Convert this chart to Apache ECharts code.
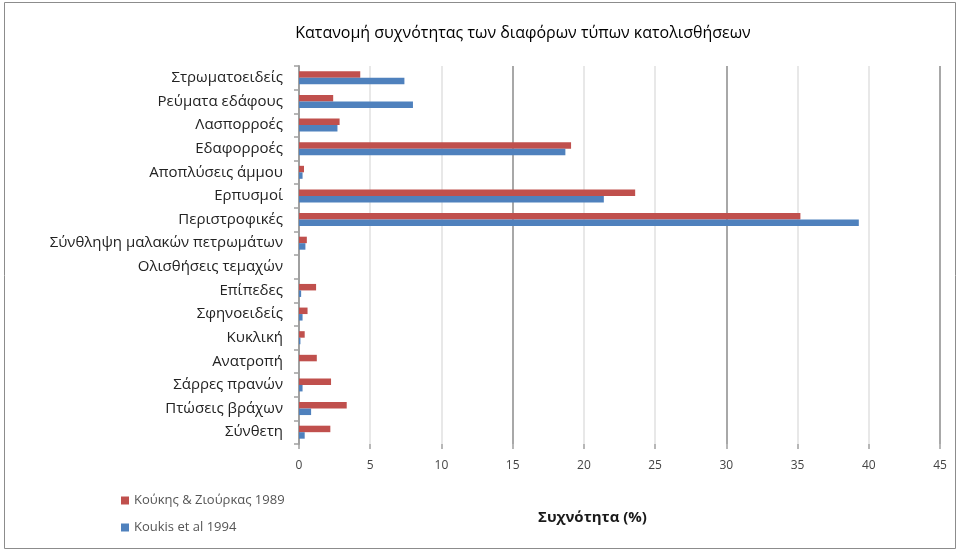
<!DOCTYPE html>
<html>
<head>
<meta charset="utf-8">
<script src="https://cdn.jsdelivr.net/npm/echarts@6/dist/echarts.min.js"></script>
<style>
  html, body { margin: 0; padding: 0; background: #fff; }
  #chart { width: 961px; height: 551px; }
</style>
</head>
<body>
<div id="chart"></div>
<script>
// Landslide types, listed top to bottom
const categories = [
  'Στρωματοειδείς',
  'Ρεύματα εδάφους',
  'Λασπορροές',
  'Εδαφορροές',
  'Αποπλύσεις άμμου',
  'Ερπυσμοί',
  'Περιστροφικές',
  'Σύνθληψη μαλακών πετρωμάτων',
  'Ολισθήσεις τεμαχών',
  'Επίπεδες',
  'Σφηνοειδείς',
  'Κυκλική',
  'Ανατροπή',
  'Σάρρες πρανών',
  'Πτώσεις βράχων',
  'Σύνθετη'
];

// Frequency (%) per source
const koukisZiourkas1989 = [4.3, 2.4, 2.85, 19.1, 0.35, 23.6, 35.2, 0.55, 0, 1.2, 0.6, 0.4, 1.25, 2.25, 3.35, 2.2];
const koukisEtAl1994     = [7.4, 8.0, 2.7, 18.7, 0.25, 21.4, 39.3, 0.45, 0, 0.15, 0.25, 0.1, 0, 0.25, 0.85, 0.4];

const seriesNames = ['Κούκης & Ζιούρκας 1989', 'Koukis et al 1994'];
const xTicks = { min: 0, max: 45, step: 5, majorStep: 15 };

const chart = echarts.init(document.getElementById('chart'));
const font = '"Open Sans", "Noto Sans", sans-serif';

chart.setOption({
  backgroundColor: '#ffffff',
  animation: false,
  title: {
    text: 'Κατανομή συχνότητας των διαφόρων τύπων κατολισθήσεων',
    left: 518,
    textAlign: 'center',
    top: 20,
    textStyle: { fontFamily: font, fontSize: 16, fontWeight: 'normal', color: '#000' }
  },
  legend: {
    orient: 'vertical',
    left: 116,
    top: 489,
    itemWidth: 8,
    itemHeight: 8,
    itemGap: 14,
    icon: 'rect',
    data: seriesNames,
    textStyle: { fontFamily: font, fontSize: 13, color: '#555' }
  },
  grid: { left: 299, right: 21, top: 66, bottom: 107, containLabel: false },
  xAxis: [
    {
      type: 'value',
      min: xTicks.min,
      max: xTicks.max,
      interval: xTicks.step,
      axisLine: { show: false },
      axisTick: { show: true, length: 5, lineStyle: { color: '#a0a0a0', width: 1.5 } },
      axisLabel: { margin: 16, fontFamily: font, fontSize: 12, color: '#444' },
      splitLine: { show: true, lineStyle: { color: '#e0e0e0', width: 1.5 } }
    },
    {
      type: 'value',
      position: 'bottom',
      min: xTicks.min,
      max: xTicks.max,
      interval: xTicks.majorStep,
      axisLine: { show: false },
      axisTick: { show: false },
      axisLabel: { show: false },
      splitLine: { show: true, lineStyle: { color: '#a8a8a8', width: 2 } }
    }
  ],
  yAxis: {
    type: 'category',
    inverse: true,
    data: categories,
    axisLine: { show: true, lineStyle: { color: '#a0a0a0', width: 2 } },
    axisTick: { show: true, length: 5, lineStyle: { color: '#a0a0a0', width: 1.5 } },
    axisLabel: { margin: 16, fontFamily: font, fontSize: 15, color: '#222' }
  },
  graphic: [
    {
      type: 'rect',
      shape: { x: 4.5, y: 2.5, width: 951, height: 546 },
      style: { fill: 'none', stroke: '#8c8c8c', lineWidth: 1 },
      z: -1
    },
    {
      type: 'text',
      left: 538,
      top: 510,
      style: { text: 'Συχνότητα (%)', font: 'bold 15px ' + font, fill: '#1a1a1a' }
    }
  ],
  series: [
    {
      name: seriesNames[0],
      type: 'bar',
      data: koukisZiourkas1989,
      barWidth: 6.5,
      barGap: '0%',
      itemStyle: { color: '#C0504D' }
    },
    {
      name: seriesNames[1],
      type: 'bar',
      data: koukisEtAl1994,
      barWidth: 6.5,
      barGap: '0%',
      itemStyle: { color: '#4F81BD' }
    }
  ]
});
</script>
</body>
</html>
